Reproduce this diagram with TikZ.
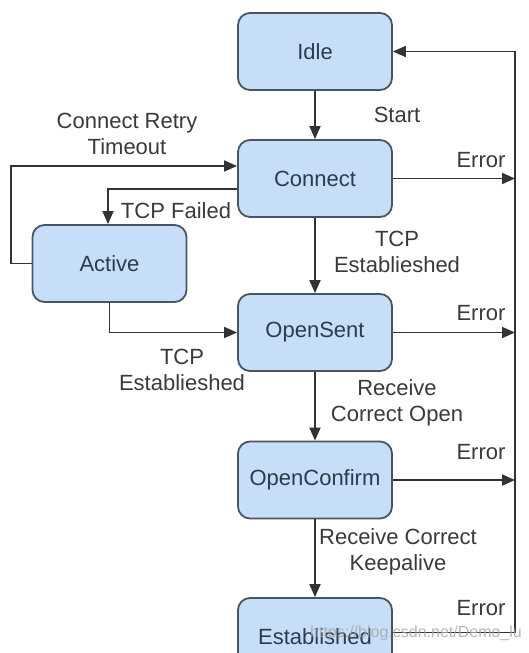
\documentclass[tikz,border=0pt]{standalone}
\usepackage{fontspec}
\setmainfont{Liberation Sans}
\usetikzlibrary{arrows.meta}
\definecolor{boxfill}{HTML}{C6DEF8}
\definecolor{boxline}{HTML}{4A5563}
\definecolor{boxtext}{HTML}{2E3B4C}
\definecolor{linec}{HTML}{333333}
\definecolor{labc}{HTML}{3A3A3A}
\begin{document}
\begin{tikzpicture}[x=1pt,y=-1pt,
  state/.style={draw=boxline, fill=boxfill, line width=1.8pt, rounded corners=12pt,
    minimum width=154pt, minimum height=77pt, inner sep=0pt, text=boxtext,
    font=\fontsize{22}{26}\selectfont},
  conn/.style={draw=linec, line width=1.8pt, -{Triangle[length=13pt,width=11pt]}},
  plain/.style={draw=linec, line width=1.8pt},
  lab/.style={text=labc, font=\fontsize{22}{26}\selectfont, align=center, inner sep=0pt},
  wm/.style={text=gray!70, opacity=0.8, font=\fontsize{16}{18}\selectfont, inner sep=0pt}]
\useasboundingbox (0,0) rectangle (528,653);
\clip (0,0) rectangle (528,653);
\fill[white] (0,0) rectangle (528,653);

\node[state] (idle) at (315,51.5) {Idle};
\node[state] (connect) at (315,178.5) {Connect};
\node[state] (active) at (109.5,263.5) {Active};
\node[state] (opensent) at (315,332.5) {OpenSent};
\node[state] (openconfirm) at (315,480) {OpenConfirm};
\node[state] (established) at (315,636.5) {Established};
\coordinate (rail) at (515,0);

% main chain
\draw[conn] (idle) -- (connect);
\draw[conn] (connect) -- (opensent);
\draw[conn] (opensent) -- (openconfirm);
\draw[conn] (openconfirm) -- (established);

% error arrows
\draw[conn] (connect.east) -- (connect.east -| rail);
\draw[conn] (opensent.east) -- (opensent.east -| rail);
\draw[conn] (openconfirm.east) -- (openconfirm.east -| rail);
\draw[conn] ([yshift=4pt]established.east) -- ([yshift=4pt]established.east -| rail)
  -- (idle.east -| rail) -- (idle.east);

% active loops
\draw[conn] (active.west) -- ++(-20.5,0) |- ([yshift=12.5pt]connect.west);
\draw[conn] ([yshift=-10.5pt]connect.west) -| ([xshift=-1.5pt]active.north);
\draw[conn] (active.south) |- (opensent.west);

% labels
\node[lab] (lstart) at (397,115) {Start};
\node[lab] (le1) at (481,160) {Error};
\node[lab] (le2) at (481,313) {Error};
\node[lab] (le3) at (481,452) {Error};
\node[lab] (le4) at (481,608) {Error};
\node[lab] (ltcp1) at (397,251.5) {TCP\\Establieshed};
\node[lab] (lfail) at (176,211) {TCP Failed};
\node[lab] (lretry) at (127,133.5) {Connect Retry\\Timeout};
\node[lab] (ltcp2) at (182,370) {TCP\\Establieshed};
\node[lab] (lopen) at (397,402.5) {Receive\\Correct Open};
\node[lab] (lkeep) at (398,551.5) {Receive Correct\\Keepalive};
\node[wm] (wmark) at (416,633) {https://blog.csdn.net/Demo\_lu};
\end{tikzpicture}
\end{document}
